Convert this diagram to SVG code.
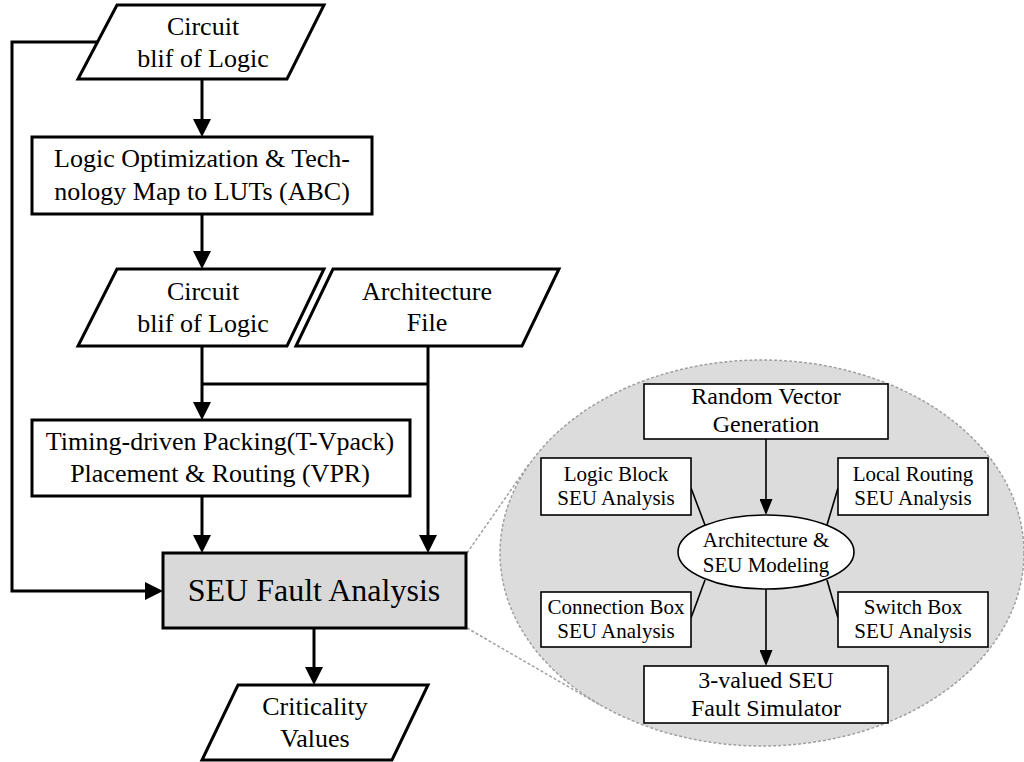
<svg xmlns="http://www.w3.org/2000/svg" width="1024" height="762" viewBox="0 0 1024 762">
  <style>
    .shape { fill: #ffffff; stroke: #000000; stroke-width: 3; }
    .thin { fill: #ffffff; stroke: #000000; stroke-width: 1.6; }
    .grey { fill: #d9d9d9; }
    .wire { fill: none; stroke: #000000; stroke-width: 3; }
    .wire-thin { fill: none; stroke: #000000; stroke-width: 1.6; }
    .zoom { fill: none; stroke: #a0a0a0; stroke-width: 1.5; stroke-dasharray: 3 2; }
    .zoom-area { fill: #dcdcdc; stroke: #a0a0a0; stroke-width: 1.5; stroke-dasharray: 3 2; }
    text { font-family: "Liberation Serif", "Times New Roman", serif; fill: #000000; text-anchor: middle; }
    .t26 { font-size: 26px; }
    .t32 { font-size: 32px; }
    .t24 { font-size: 24px; }
    .t21 { font-size: 21px; }
  </style>
  <defs>
    <marker id="arrow" viewBox="0 0 18 18" refX="14" refY="9" markerWidth="18" markerHeight="18" markerUnits="userSpaceOnUse" orient="auto">
      <path d="M0,0 L18,9 L0,18 z" fill="#000000"/>
    </marker>
    <marker id="arrow-sm" viewBox="0 0 16 13" refX="14" refY="6.5" markerWidth="16" markerHeight="13" markerUnits="userSpaceOnUse" orient="auto">
      <path d="M0,0 L16,6.5 L0,13 z" fill="#000000"/>
    </marker>
  </defs>

  <!-- detail view of the fault analysis stage -->
  <g id="detail-view">
    <ellipse cx="762" cy="553" rx="262" ry="193" class="zoom-area"/>
    <line x1="467" y1="553" x2="529" y2="464" class="zoom"/>
    <line x1="467" y1="628" x2="600" y2="705" class="zoom"/>
  </g>

  <!-- connectors -->
  <g id="connectors">
    <path d="M97.5,42 H12 V591 H159" class="wire" marker-end="url(#arrow)"/>
    <path d="M202,79 V133" class="wire" marker-end="url(#arrow)"/>
    <path d="M202,214 V265" class="wire" marker-end="url(#arrow)"/>
    <path d="M202,346 V416" class="wire" marker-end="url(#arrow)"/>
    <path d="M202,384 H428" class="wire"/>
    <path d="M202,496 V549" class="wire" marker-end="url(#arrow)"/>
    <path d="M428,346 V549" class="wire" marker-end="url(#arrow)"/>
    <path d="M314,628 V681" class="wire" marker-end="url(#arrow)"/>

    <path d="M766,439 V513" class="wire-thin" marker-end="url(#arrow-sm)"/>
    <path d="M766,589 V664" class="wire-thin" marker-end="url(#arrow-sm)"/>
    <line x1="691" y1="488" x2="705" y2="525" class="wire-thin"/>
    <line x1="838" y1="488" x2="827" y2="525" class="wire-thin"/>
    <line x1="691" y1="618" x2="705" y2="580" class="wire-thin"/>
    <line x1="838" y1="618" x2="827" y2="580" class="wire-thin"/>
  </g>

  <g id="circuit-blif-in">
    <polygon points="117,5 324,5 287,79 78,79" class="shape"/>
    <text x="203" y="35" class="t26">Circuit</text>
    <text x="203" y="67" class="t26">blif of Logic</text>
  </g>

  <g id="abc-mapping">
    <rect x="32" y="137" width="340" height="77" class="shape"/>
    <text x="202" y="167" class="t26">Logic Optimization &amp; Tech-</text>
    <text x="202" y="200" class="t26">nology Map to LUTs (ABC)</text>
  </g>

  <g id="circuit-blif-mapped">
    <polygon points="117,269 324,269 287,346 78,346" class="shape"/>
    <text x="203" y="300" class="t26">Circuit</text>
    <text x="203" y="332" class="t26">blif of Logic</text>
  </g>

  <g id="architecture-file">
    <polygon points="333,269 559,269 522,346 296,346" class="shape"/>
    <text x="427" y="300" class="t26">Architecture</text>
    <text x="427" y="331" class="t26">File</text>
  </g>

  <g id="pack-place-route">
    <rect x="32" y="420" width="378" height="76" class="shape"/>
    <text x="220" y="450" class="t26">Timing-driven Packing(T-Vpack)</text>
    <text x="220" y="482" class="t26">Placement &amp; Routing (VPR)</text>
  </g>

  <g id="seu-fault-analysis">
    <rect x="163" y="553" width="303" height="75" class="shape grey"/>
    <text x="314" y="601" class="t32">SEU Fault Analysis</text>
  </g>

  <g id="criticality-values">
    <polygon points="238,685 428,685 392,760 202,760" class="shape"/>
    <text x="315" y="715" class="t26">Criticality</text>
    <text x="315" y="747" class="t26">Values</text>
  </g>

  <g id="random-vector">
    <rect x="644" y="384" width="244" height="55" class="thin"/>
    <text x="766" y="404" class="t24">Random Vector</text>
    <text x="766" y="432" class="t24">Generation</text>
  </g>

  <g id="logic-block">
    <rect x="541" y="458" width="150" height="57" class="thin"/>
    <text x="616" y="481" class="t21">Logic Block</text>
    <text x="616" y="505" class="t21">SEU Analysis</text>
  </g>

  <g id="local-routing">
    <rect x="838" y="458" width="150" height="57" class="thin"/>
    <text x="913" y="481" class="t21">Local Routing</text>
    <text x="913" y="505" class="t21">SEU Analysis</text>
  </g>

  <g id="arch-seu-model">
    <ellipse cx="766" cy="552" rx="88" ry="37" class="thin"/>
    <text x="766" y="547" class="t21">Architecture &amp;</text>
    <text x="766" y="572" class="t21">SEU Modeling</text>
  </g>

  <g id="connection-box">
    <rect x="541" y="592" width="150" height="55" class="thin"/>
    <text x="616" y="614" class="t21">Connection Box</text>
    <text x="616" y="638" class="t21">SEU Analysis</text>
  </g>

  <g id="switch-box">
    <rect x="838" y="592" width="150" height="55" class="thin"/>
    <text x="913" y="614" class="t21">Switch Box</text>
    <text x="913" y="638" class="t21">SEU Analysis</text>
  </g>

  <g id="fault-simulator">
    <rect x="644" y="666" width="244" height="57" class="thin"/>
    <text x="766" y="688" class="t24">3-valued SEU</text>
    <text x="766" y="716" class="t24">Fault Simulator</text>
  </g>
</svg>
